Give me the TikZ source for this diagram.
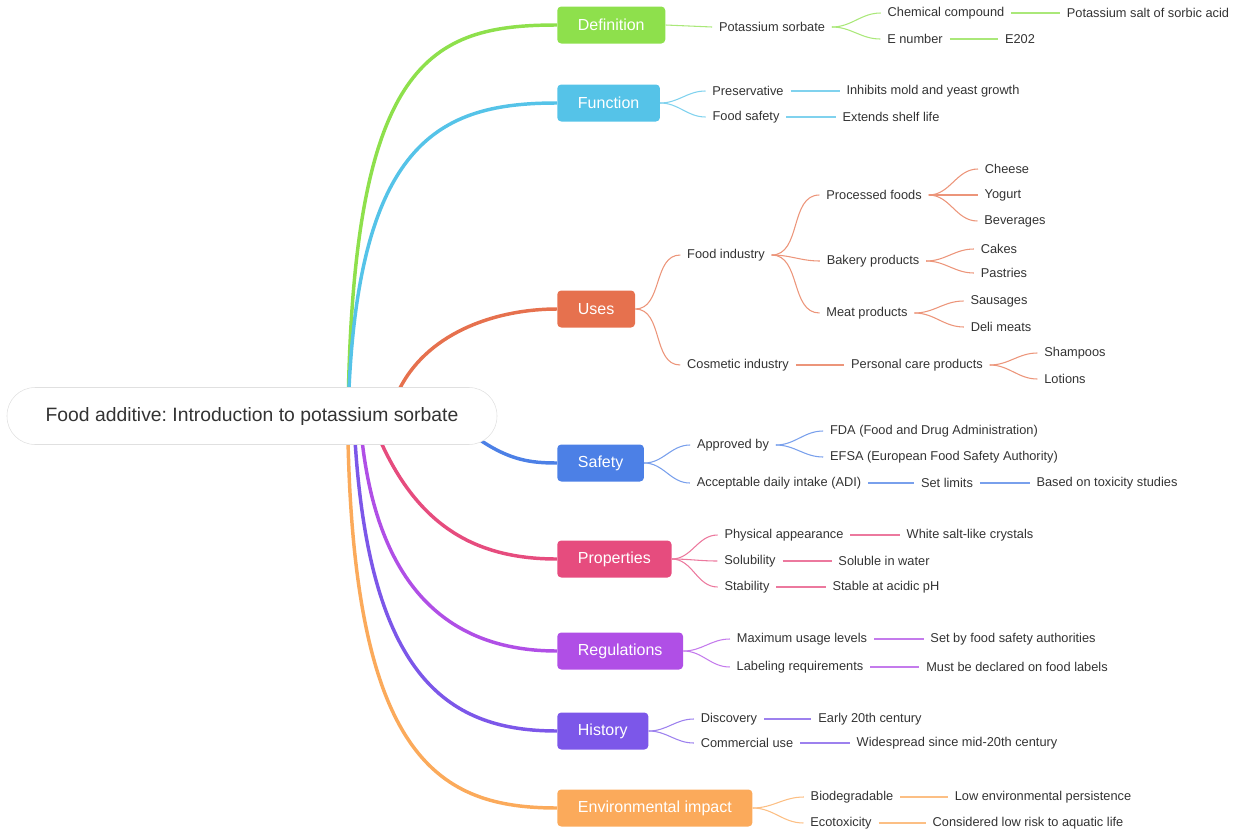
\documentclass[tikz,border=0pt]{standalone}
\usepackage{fontspec}
\setmainfont{Liberation Sans}
\frenchspacing
\definecolor{cDef}{HTML}{8EE04C}
\definecolor{cFun}{HTML}{55C3E8}
\definecolor{cUse}{HTML}{E6714E}
\definecolor{cSaf}{HTML}{4C80E6}
\definecolor{cPro}{HTML}{E64C7E}
\definecolor{cReg}{HTML}{B04FE6}
\definecolor{cHis}{HTML}{7C57E9}
\definecolor{cEnv}{HTML}{FBAA5B}
\definecolor{txt}{HTML}{333333}
\begin{document}
\begin{tikzpicture}[x=0.75pt,y=-0.75pt,
  leaf/.style={font=\fontsize{9.6}{11}\selectfont, text=txt, inner xsep=5pt, inner ysep=2pt},
  box/.style={fill=#1, text=white, font=\fontsize{12}{14}\selectfont, rounded corners=3pt, minimum height=27.75pt, inner xsep=15.5pt, anchor=west},
  br/.style={draw=#1, line width=2.6pt},
  ln/.style={draw=#1!75!white, line width=0.8pt}]
\useasboundingbox (0,0) rectangle (1240,832);
% branch boxes
\node[box=cDef] (def) at (557,25) {Definition};
\node[box=cFun] (fun) at (557,103) {Function};
\node[box=cUse] (use) at (557,309) {Uses};
\node[box=cSaf] (saf) at (557,463) {Safety};
\node[box=cPro] (pro) at (557,559) {Properties};
\node[box=cReg] (reg) at (557,651) {Regulations};
\node[box=cHis] (his) at (557,731) {History};
\node[box=cEnv] (env) at (557,808) {Environmental impact};
% main curves
\coordinate (s) at (348,416);
\draw[br=cDef] (s) .. controls (352,60) and (430,25) .. (def.west);
\draw[br=cFun] (s) .. controls (355,140) and (440,103) .. (fun.west);
\draw[br=cUse] (400,388) .. controls (430,330) and (500,309) .. (use.west);
\draw[br=cSaf] (480,440) .. controls (510,460) and (530,463) .. (saf.west);
\draw[br=cPro] (380,440) .. controls (420,530) and (480,559) .. (pro.west);
\draw[br=cReg] (362,440) .. controls (380,600) and (460,651) .. (reg.west);
\draw[br=cHis] (355,440) .. controls (370,680) and (450,731) .. (his.west);
\draw[br=cEnv] (348,440) .. controls (355,760) and (440,808) .. (env.west);
% root
\node[draw=black!12, fill=white, rounded corners=21pt, minimum width=367.5pt, minimum height=42.75pt,
  font=\fontsize{14.5}{17}\selectfont, text=txt] (root) at (252,416) {Food additive: Introduction to potassium sorbate};
% Definition
\node[leaf] (d1) at (772,27) {Potassium sorbate};
\node[leaf] (d11) at (946,13) {Chemical compound};
\node[leaf] (d12) at (915,39) {E number};
\node[leaf] (d111) at (1148,13) {Potassium salt of sorbic acid};
\node[leaf] (d121) at (1020,39) {E202};
\draw[ln=cDef] (def.east) -- (d1.west);
\draw[ln=cDef] (d1.east) to[out=0,in=180] (d11.west);
\draw[ln=cDef] (d1.east) to[out=0,in=180] (d12.west);
\draw[ln=cDef] (d11.east) -- (d111.west);
\draw[ln=cDef] (d12.east) -- (d121.west);
% Function
\node[leaf] (f1) at (748,91) {Preservative};
\node[leaf] (f2) at (746,117) {Food safety};
\node[leaf] (f11) at (933,91) {Inhibits mold and yeast growth};
\node[leaf] (f21) at (891,117) {Extends shelf life};
\draw[ln=cFun] (fun.east) to[out=0,in=180] (f1.west);
\draw[ln=cFun] (fun.east) to[out=0,in=180] (f2.west);
\draw[ln=cFun] (f1.east) -- (f11.west);
\draw[ln=cFun] (f2.east) -- (f21.west);
% Uses
\node[leaf] (u1) at (726,255) {Food industry};
\node[leaf] (u2) at (738,365) {Cosmetic industry};
\node[leaf] (u11) at (874,195) {Processed foods};
\node[leaf] (u12) at (873,261) {Bakery products};
\node[leaf] (u13) at (867,313) {Meat products};
\node[leaf] (u111) at (1007,169) {Cheese};
\node[leaf] (u112) at (1003,195) {Yogurt};
\node[leaf] (u113) at (1015,221) {Beverages};
\node[leaf] (u121) at (999,249) {Cakes};
\node[leaf] (u122) at (1004,273) {Pastries};
\node[leaf] (u131) at (999,301) {Sausages};
\node[leaf] (u132) at (1001,327) {Deli meats};
\node[leaf] (u21) at (917,365) {Personal care products};
\node[leaf] (u211) at (1075,353) {Shampoos};
\node[leaf] (u212) at (1065,379) {Lotions};
\draw[ln=cUse] (use.east) to[out=0,in=180] (u1.west);
\draw[ln=cUse] (use.east) to[out=0,in=180] (u2.west);
\foreach \c in {u11,u12,u13} \draw[ln=cUse] (u1.east) to[out=0,in=180] (\c.west);
\foreach \c in {u111,u112,u113} \draw[ln=cUse] (u11.east) to[out=0,in=180] (\c.west);
\foreach \c in {u121,u122} \draw[ln=cUse] (u12.east) to[out=0,in=180] (\c.west);
\foreach \c in {u131,u132} \draw[ln=cUse] (u13.east) to[out=0,in=180] (\c.west);
\draw[ln=cUse] (u2.east) -- (u21.west);
\foreach \c in {u211,u212} \draw[ln=cUse] (u21.east) to[out=0,in=180] (\c.west);
% Safety
\node[leaf] (s1) at (733,445) {Approved by};
\node[leaf] (s2) at (779,483) {Acceptable daily intake (ADI)};
\node[leaf] (s11) at (934,431) {FDA (Food and Drug Administration)};
\node[leaf] (s12) at (944,457) {EFSA (European Food Safety Authority)};
\node[leaf] (s21) at (947,483) {Set limits};
\node[leaf] (s211) at (1107,483) {Based on toxicity studies};
\draw[ln=cSaf] (saf.east) to[out=0,in=180] (s1.west);
\draw[ln=cSaf] (saf.east) to[out=0,in=180] (s2.west);
\foreach \c in {s11,s12} \draw[ln=cSaf] (s1.east) to[out=0,in=180] (\c.west);
\draw[ln=cSaf] (s2.east) -- (s21.west);
\draw[ln=cSaf] (s21.east) -- (s211.west);
% Properties
\node[leaf] (p1) at (784,535) {Physical appearance};
\node[leaf] (p2) at (750,561) {Solubility};
\node[leaf] (p3) at (747,587) {Stability};
\node[leaf] (p11) at (970,535) {White salt-like crystals};
\node[leaf] (p21) at (884,561) {Soluble in water};
\node[leaf] (p31) at (886,587) {Stable at acidic pH};
\foreach \c in {p1,p2,p3} \draw[ln=cPro] (pro.east) to[out=0,in=180] (\c.west);
\draw[ln=cPro] (p1.east) -- (p11.west);
\draw[ln=cPro] (p2.east) -- (p21.west);
\draw[ln=cPro] (p3.east) -- (p31.west);
% Regulations
\node[leaf] (r1) at (802,639) {Maximum usage levels};
\node[leaf] (r2) at (800,667) {Labeling requirements};
\node[leaf] (r11) at (1013,639) {Set by food safety authorities};
\node[leaf] (r21) at (1017,667) {Must be declared on food labels};
\foreach \c in {r1,r2} \draw[ln=cReg] (reg.east) to[out=0,in=180] (\c.west);
\draw[ln=cReg] (r1.east) -- (r11.west);
\draw[ln=cReg] (r2.east) -- (r21.west);
% History
\node[leaf] (h1) at (729,719) {Discovery};
\node[leaf] (h2) at (747,743) {Commercial use};
\node[leaf] (h11) at (870,719) {Early 20th century};
\node[leaf] (h21) at (957,743) {Widespread since mid-20th century};
\foreach \c in {h1,h2} \draw[ln=cHis] (his.east) to[out=0,in=180] (\c.west);
\draw[ln=cHis] (h1.east) -- (h11.west);
\draw[ln=cHis] (h2.east) -- (h21.west);
% Environmental impact
\node[leaf] (e1) at (852,797) {Biodegradable};
\node[leaf] (e2) at (841,823) {Ecotoxicity};
\node[leaf] (e11) at (1043,797) {Low environmental persistence};
\node[leaf] (e21) at (1028,823) {Considered low risk to aquatic life};
\foreach \c in {e1,e2} \draw[ln=cEnv] (env.east) to[out=0,in=180] (\c.west);
\draw[ln=cEnv] (e1.east) -- (e11.west);
\draw[ln=cEnv] (e2.east) -- (e21.west);
\end{tikzpicture}
\end{document}
